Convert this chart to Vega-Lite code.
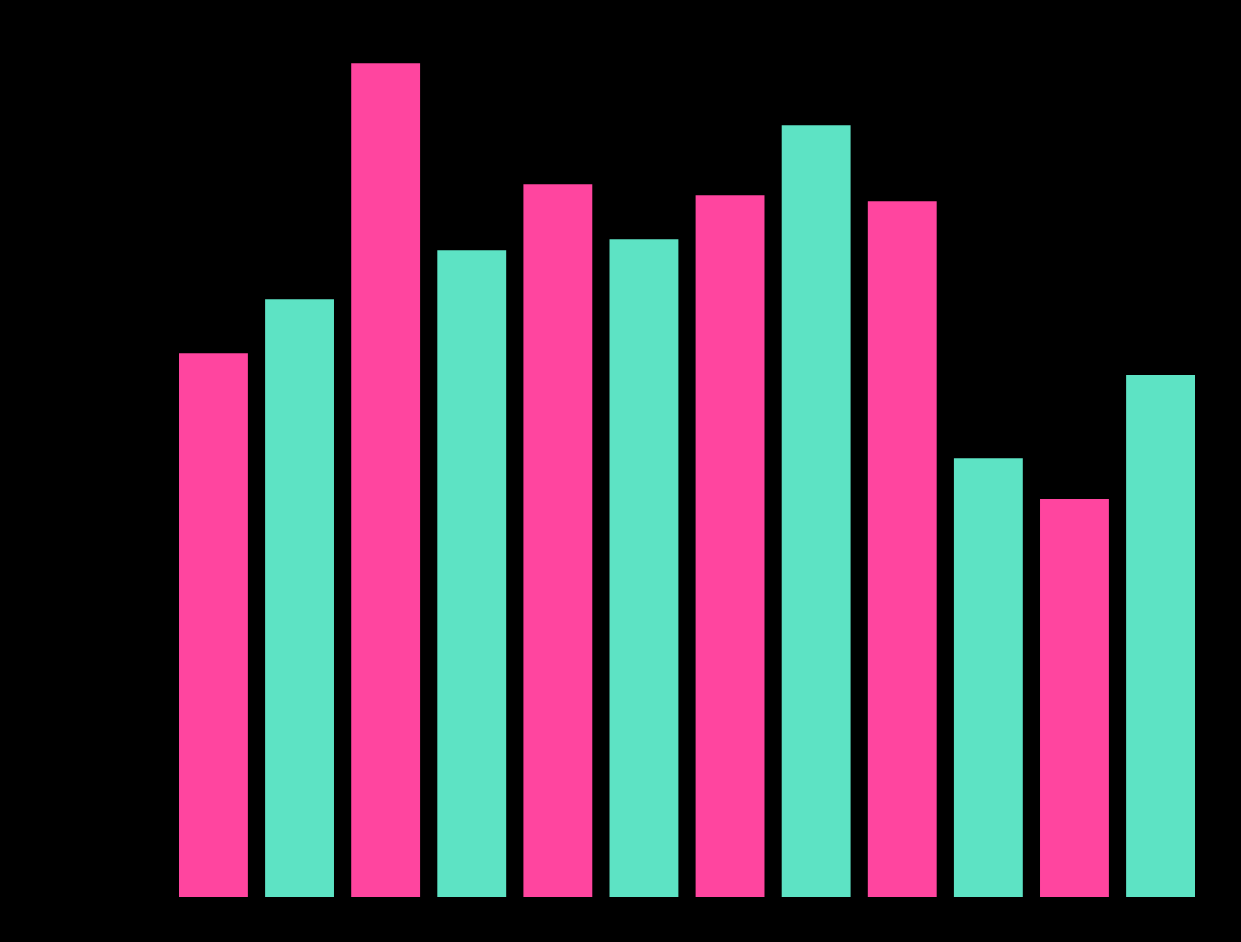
{
  "$schema": "https://vega.github.io/schema/vega-lite/v6.json",
  "width": 1016,
  "height": 848,
  "autosize": {"type": "none"},
  "padding": {"left": 179, "top": 49, "right": 46, "bottom": 45},
  "background": "#000000",
  "config": {"view": {"stroke": null}},
  "data": {
    "values": [
      {"cat": "1", "group": "A", "value": 14.43},
      {"cat": "2", "group": "B", "value": 15.86},
      {"cat": "3", "group": "A", "value": 22.12},
      {"cat": "4", "group": "B", "value": 17.16},
      {"cat": "5", "group": "A", "value": 18.91},
      {"cat": "6", "group": "B", "value": 17.45},
      {"cat": "7", "group": "A", "value": 18.62},
      {"cat": "8", "group": "B", "value": 20.48},
      {"cat": "9", "group": "A", "value": 18.46},
      {"cat": "10", "group": "B", "value": 11.64},
      {"cat": "11", "group": "A", "value": 10.56},
      {"cat": "12", "group": "B", "value": 13.85}
    ]
  },
  "mark": {"type": "bar"},
  "encoding": {
    "x": {"field": "cat", "type": "ordinal", "sort": null, "axis": null,
          "scale": {"paddingInner": 0.2, "paddingOuter": 0}},
    "y": {"field": "value", "type": "quantitative", "axis": null,
          "scale": {"domain": [0, 22.5], "nice": false}},
    "color": {"field": "group", "type": "nominal", "legend": null,
              "scale": {"domain": ["A", "B"], "range": ["#FF459F", "#5DE3C4"]}}
  }
}
